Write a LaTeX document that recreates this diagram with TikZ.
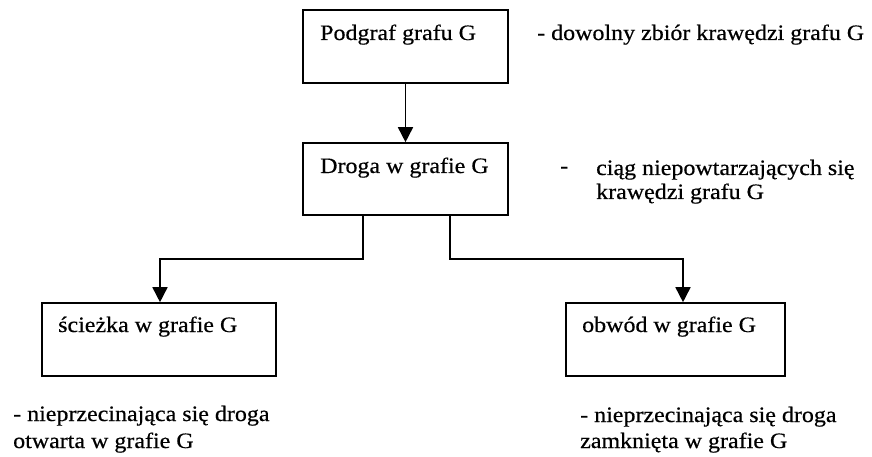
\documentclass[tikz,border=0pt]{standalone}
\usepackage{fontspec}
\setmainfont{Liberation Serif}
\newfontfamily\scanfont{Liberation Serif}[FakeStretch=1.09,FakeBold=0.5]
\usetikzlibrary{arrows.meta,calc}
\begin{document}
\begin{tikzpicture}[x=1pt,y=-1pt,
  box/.style={draw=black,line width=1.6pt,rectangle,inner sep=0pt},
  txt/.style={anchor=base west,inner sep=0pt,font=\scanfont\fontsize{22}{26}\selectfont,text=black},
  conn/.style={line width=1.6pt,-{Triangle[width=15pt,length=15pt]}}]
\useasboundingbox[fill=white] (0,0) rectangle (872,457);
% boxes
\node[box,minimum width=205pt,minimum height=73pt] (b1) at (405.5,46.5) {};
\node[box,minimum width=205pt,minimum height=72pt] (b2) at (405.5,179) {};
\node[box,minimum width=234pt,minimum height=73pt] (b3) at (159,339.5) {};
\node[box,minimum width=219pt,minimum height=73pt] (b4) at (675.5,339.5) {};
% box texts
\node[txt] (t1) at (320,40) {Podgraf grafu G};
\node[txt] (t2) at (320,173) {Droga w grafie G};
\node[txt] (t3) at (58,332) {ścieżka w grafie G};
\node[txt] (t4) at (582,332) {obwód w grafie G};
% side labels
\node[txt] (l1) at (537,40) {- dowolny zbiór krawędzi grafu G};
\node[txt] (l2d) at (560,173) {-};
\node[txt] (l2a) at (596,175) {ciąg niepowtarzających się};
\node[txt] (l2b) at (596,199) {krawędzi grafu G};
\node[txt] (l3a) at (13,421) {- nieprzecinająca się droga};
\node[txt] (l3b) at (13,448) {otwarta w grafie G};
\node[txt] (l4a) at (580,422) {- nieprzecinająca się droga};
\node[txt] (l4b) at (580,448) {zamknięta w grafie G};
% connectors
\coordinate (s1) at (363,215);
\coordinate (s2) at (450,215);
\coordinate (e3) at (160,303);
\coordinate (e4) at (683,303);
\draw[conn] (b1.south) -- (b2.north);
\draw[conn] (b2.south -| s1) -- (363,259) -- (160,259) -- (b3.north -| e3);
\draw[conn] (b2.south -| s2) -- (450,259) -- (683,259) -- (b4.north -| e4);
\end{tikzpicture}
\end{document}
